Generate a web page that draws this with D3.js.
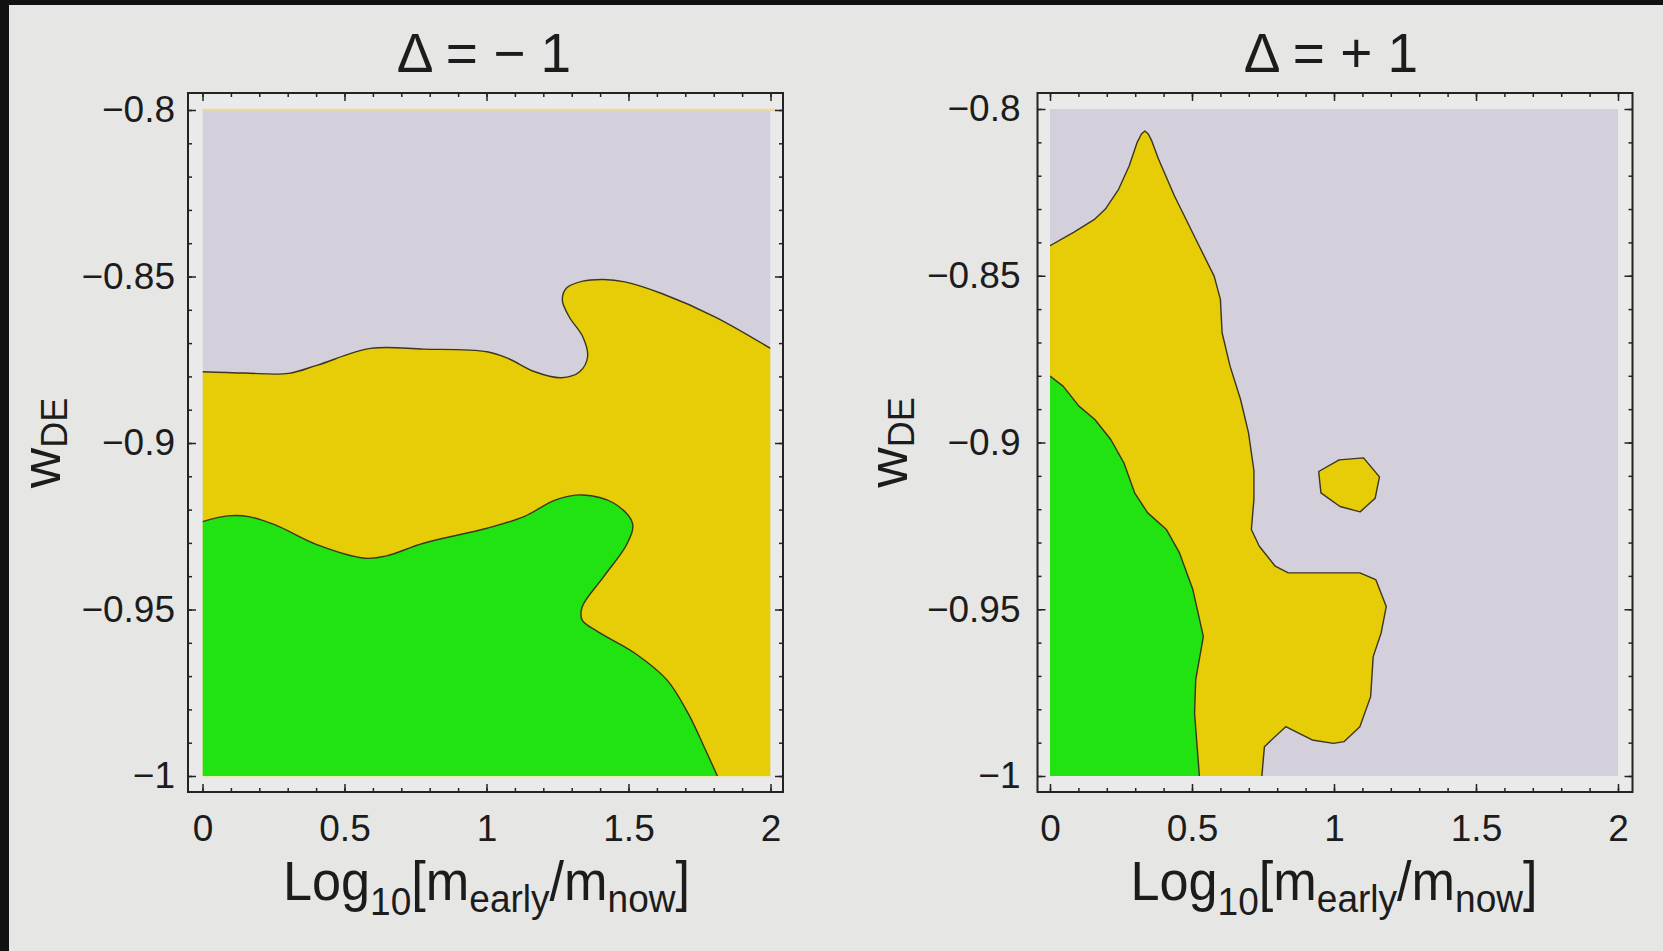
<!DOCTYPE html>
<html>
<head>
<meta charset="utf-8">
<script src="https://cdn.jsdelivr.net/npm/d3@7"></script>
<style>
  html, body { margin: 0; padding: 0; background: #e6e6e4; overflow: hidden; }
  text { font-family: "Liberation Sans", Arial, sans-serif; fill: #1c1c1c; }
</style>
</head>
<body>
<svg id="fig" width="1663" height="951"></svg>
<script>
// ---- data --------------------------------------------------------------
const xTicks = [0, 0.5, 1, 1.5, 2];
const yTicks = [-0.8, -0.85, -0.9, -0.95, -1];
const xMinor = d3.range(0, 21).map(i => i / 10);
const yMinor = d3.range(0, 21).map(i => -0.8 - i / 100);
const panelTitles = ["\u0394 = \u2212 1", "\u0394 = + 1"];

// Delta = -1 : boundary between excluded (grey) and 2-sigma (yellow) region
const minusOuter = [
  [0.0, -0.8786], [0.15, -0.8790], [0.303, -0.8791], [0.405, -0.8766], [0.592, -0.8716],
  [0.778, -0.8718], [1.002, -0.8726], [1.076, -0.8746], [1.170, -0.8786], [1.263, -0.8804],
  [1.328, -0.8786], [1.356, -0.8741], [1.339, -0.8681], [1.291, -0.8621], [1.267, -0.8571],
  [1.281, -0.8535], [1.339, -0.8514], [1.412, -0.8509], [1.487, -0.8516], [1.617, -0.8551],
  [1.804, -0.8621], [2.0, -0.8716]
];
// Delta = -1 : boundary of the 1-sigma (green) region
const minusInner = [
  [0.0, -0.9236], [0.088, -0.9219], [0.163, -0.9221], [0.256, -0.9246], [0.405, -0.9306],
  [0.573, -0.9346], [0.648, -0.9339], [0.778, -0.9301], [1.002, -0.9256], [1.132, -0.9221],
  [1.244, -0.9171], [1.337, -0.9156], [1.449, -0.9181], [1.514, -0.9241], [1.496, -0.9301],
  [1.412, -0.9402], [1.337, -0.9492], [1.337, -0.9532], [1.393, -0.9567], [1.524, -0.9632],
  [1.636, -0.9712], [1.710, -0.9812], [1.766, -0.9912], [1.813, -1.0]
];
// Delta = +1 : 2-sigma boundary
const plusOuter = [
  [0.0, -0.8410], [0.083, -0.8370], [0.158, -0.8330], [0.195, -0.8300], [0.242, -0.8240],
  [0.279, -0.8170], [0.307, -0.8100], [0.322, -0.8075], [0.334, -0.8066], [0.346, -0.8075],
  [0.358, -0.8095], [0.382, -0.8150],
  [0.438, -0.8260], [0.513, -0.8390], [0.578, -0.8501], [0.600, -0.8571], [0.606, -0.8671],
  [0.634, -0.8771], [0.671, -0.8871], [0.699, -0.8971], [0.718, -0.9084], [0.718, -0.9171],
  [0.709, -0.9261], [0.737, -0.9311], [0.793, -0.9371], [0.839, -0.9391], [1.091, -0.9391],
  [1.147, -0.9411], [1.184, -0.9492], [1.166, -0.9571], [1.138, -0.9642], [1.129, -0.9762],
  [1.091, -0.9852], [1.035, -0.9897], [0.998, -0.9902], [0.923, -0.9892], [0.830, -0.9852],
  [0.755, -0.9912], [0.746, -1.0]
];
// Delta = +1 : isolated 2-sigma island
const plusIsland = [
  [0.946, -0.9087], [1.018, -0.9052], [1.104, -0.9046], [1.160, -0.9103],
  [1.145, -0.9167], [1.092, -0.9208], [1.021, -0.9192], [0.954, -0.9151]
];
// Delta = +1 : 1-sigma boundary
const plusInner = [
  [0.0, -0.8801], [0.046, -0.8831], [0.102, -0.8891], [0.158, -0.8931], [0.214, -0.8991],
  [0.260, -0.9061], [0.298, -0.9151], [0.344, -0.9211], [0.410, -0.9261], [0.456, -0.9331],
  [0.503, -0.9441], [0.540, -0.9582], [0.513, -0.9712], [0.509, -0.9812], [0.526, -1.0]
];

// ---- styling / layout ---------------------------------------------------
const COL = { bg: "#e6e6e4", pad: "#ebeaeb", grey: "#d4d0db", yellow: "#e6cd07",
              green: "#21e312", line: "#3b3522", frame: "#232323" };

const panels = [
  { title: panelTitles[0], titleX: 484,
    frame: { x0: 188, x1: 783, y0: 93, y1: 792 },
    xr: [202.5, 770.5], yr: [776, 110], labelPad: 13, ylabX: 60,
    curve: d3.curveCatmullRom.alpha(0.5), closedCurve: d3.curveCatmullRomClosed.alpha(0.5),
    regions: [
      { fill: COL.yellow, pts: minusOuter, close: [[2, -1], [0, -1]] },
      { fill: COL.green, pts: minusInner, close: [[0, -1]] }
    ],
    edgeLine: true },
  { title: panelTitles[1], titleX: 1331,
    frame: { x0: 1037.5, x1: 1632.5, y0: 93, y1: 792 },
    xr: [1050, 1618], yr: [776, 109], labelPad: 17, ylabX: 907,
    curve: d3.curveLinear, closedCurve: d3.curveLinearClosed,
    regions: [
      { fill: COL.yellow, pts: plusOuter, close: [[0, -1]] },
      { fill: COL.yellow, pts: plusIsland, closed: true },
      { fill: COL.green, pts: plusInner, close: [[0, -1]] }
    ],
    edgeLine: false }
];

const svg = d3.select("#fig");
svg.append("rect").attr("width", 1663).attr("height", 951).attr("fill", COL.bg);
// dark border of the captured frame
svg.append("rect").attr("x", 0).attr("y", 0).attr("width", 9).attr("height", 951).attr("fill", "#111");
svg.append("rect").attr("x", 0).attr("y", 0).attr("width", 1663).attr("height", 5).attr("fill", "#111");

const fmt = d => (d < 0 ? "\u2212" : "") + String(Math.abs(d));

panels.forEach((p, i) => {
  const x = d3.scaleLinear().domain([0, 2]).range(p.xr);
  const y = d3.scaleLinear().domain([-1, -0.8]).range(p.yr);
  const f = p.frame;
  const g = svg.append("g");

  // padded plot background inside the frame
  g.append("rect").attr("x", f.x0).attr("y", f.y0).attr("width", f.x1 - f.x0)
    .attr("height", f.y1 - f.y0).attr("fill", COL.pad);

  const clipId = "clip" + i;
  g.append("clipPath").attr("id", clipId).append("rect")
    .attr("x", x(0)).attr("y", y(-0.8)).attr("width", x(2) - x(0)).attr("height", y(-1) - y(-0.8));

  const plot = g.append("g").attr("clip-path", `url(#${clipId})`);
  plot.append("rect").attr("x", x(0)).attr("y", y(-0.8)).attr("width", x(2) - x(0))
    .attr("height", y(-1) - y(-0.8)).attr("fill", COL.grey);

  const line = d3.line().x(d => x(d[0])).y(d => y(d[1])).curve(p.curve);
  const closedLine = d3.line().x(d => x(d[0])).y(d => y(d[1])).curve(p.closedCurve);

  p.regions.forEach(r => {
    let dFill, dStroke;
    if (r.closed) {
      dFill = dStroke = closedLine(r.pts);
    } else {
      dStroke = line(r.pts);
      dFill = dStroke + r.close.map(c => `L${x(c[0])},${y(c[1])}`).join("") + "Z";
    }
    plot.append("path").attr("d", dFill).attr("fill", r.fill);
    plot.append("path").attr("d", dStroke).attr("fill", "none")
      .attr("stroke", COL.line).attr("stroke-width", 1.4).attr("stroke-linejoin", "round");
  });

  if (p.edgeLine) {
    g.append("line").attr("x1", x(0)).attr("x2", x(2) + 6).attr("y1", y(-0.8)).attr("y2", y(-0.8))
      .attr("stroke", "#e6daa2").attr("stroke-width", 2.5);
    g.append("line").attr("x1", x(0)).attr("x2", x(2)).attr("y1", y(-1) + 1).attr("y2", y(-1) + 1)
      .attr("stroke", "#e9ecb0").attr("stroke-width", 2);
  }

  // frame with inward ticks on all four sides
  const styleAxis = sel => {
    sel.select(".domain").remove();
    sel.selectAll("line").attr("stroke", COL.frame).attr("stroke-width", 1.5);
    sel.attr("font-family", null).attr("font-size", null);
    sel.selectAll("text").attr("font-size", 37).attr("fill", "#1c1c1c");
  };
  const minor = (axis, vals) => axis.tickValues(vals).tickSizeInner(-4).tickSizeOuter(0).tickFormat("");
  const major = (axis, vals, pad, labels) => axis.tickValues(vals).tickSizeInner(-8).tickSizeOuter(0)
    .tickPadding(pad).tickFormat(labels ? fmt : "");

  g.append("g").attr("transform", `translate(0,${f.y1})`).call(minor(d3.axisBottom(x), xMinor)).call(styleAxis);
  g.append("g").attr("transform", `translate(0,${f.y1})`).call(major(d3.axisBottom(x), xTicks, 23, true)).call(styleAxis);
  g.append("g").attr("transform", `translate(0,${f.y0})`).call(minor(d3.axisTop(x), xMinor)).call(styleAxis);
  g.append("g").attr("transform", `translate(0,${f.y0})`).call(major(d3.axisTop(x), xTicks, 0, false)).call(styleAxis);
  g.append("g").attr("transform", `translate(${f.x0},0)`).call(minor(d3.axisLeft(y), yMinor)).call(styleAxis);
  g.append("g").attr("transform", `translate(${f.x0},0)`).call(major(d3.axisLeft(y), yTicks, p.labelPad, true)).call(styleAxis);
  g.append("g").attr("transform", `translate(${f.x1},0)`).call(minor(d3.axisRight(y), yMinor)).call(styleAxis);
  g.append("g").attr("transform", `translate(${f.x1},0)`).call(major(d3.axisRight(y), yTicks, 0, false)).call(styleAxis);

  g.append("rect").attr("x", f.x0).attr("y", f.y0).attr("width", f.x1 - f.x0).attr("height", f.y1 - f.y0)
    .attr("fill", "none").attr("stroke", COL.frame).attr("stroke-width", 2);

  // title
  g.append("text").attr("x", p.titleX).attr("y", 72).attr("text-anchor", "middle")
    .attr("font-size", 55).text(p.title);

  // x-axis label: Log10[m_early / m_now]
  const cx = (x(0) + x(2)) / 2;
  const xl = g.append("g").attr("transform", `translate(${cx},900) scale(0.95,1)`)
    .append("text").attr("text-anchor", "middle").attr("font-size", 55);
  xl.append("tspan").text("Log");
  xl.append("tspan").attr("font-size", 39).attr("dy", 15).text("10");
  xl.append("tspan").attr("dy", -15).text("[m");
  xl.append("tspan").attr("font-size", 39).attr("dy", 12).text("early");
  xl.append("tspan").attr("dy", -12).text("/m");
  xl.append("tspan").attr("font-size", 39).attr("dy", 12).text("now");
  xl.append("tspan").attr("dy", -12).text("]");

  // y-axis label: w_DE
  const cy = (y(-1) + y(-0.8)) / 2;
  const yl = g.append("g").attr("transform", `translate(${p.ylabX},${cy}) rotate(-90)`)
    .append("text").attr("text-anchor", "middle").attr("font-size", 56);
  yl.append("tspan").text("w");
  yl.append("tspan").attr("font-size", 36).attr("dy", 7).text("DE");
});
</script>
</body>
</html>
